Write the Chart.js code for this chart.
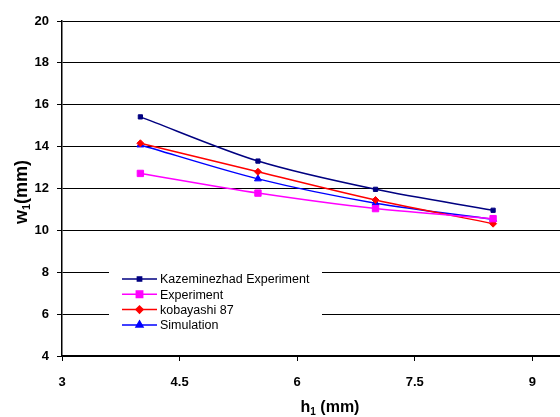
<!DOCTYPE html>
<html>
<head>
<meta charset="utf-8">
<script src="https://cdn.jsdelivr.net/npm/chart.js@4/dist/chart.umd.min.js"></script>
<style>
  html, body { margin: 0; padding: 0; background: #fff; overflow: hidden; }
  #wrap { width: 566px; height: 417px; position: relative; }
</style>
</head>
<body>
<div id="wrap"><canvas id="chart"></canvas></div>
<script>
let hValues = [4, 5.5, 7, 8.5],
    kazeminezhad = [15.42, 13.31, 11.96, 10.96],
    experiment = [12.72, 11.78, 11.04, 10.56],
    kobayashi = [14.16, 12.8, 11.45, 10.32],
    simulation = [14.08, 12.46, 11.3, 10.53],
    xTicks = [3, 4.5, 6, 7.5, 9],
    yTicks = [4, 6, 8, 10, 12, 14, 16, 18, 20];

const FONT = "Arial, 'Liberation Sans', sans-serif"

const toPoints = (ys) => ys.map((y, i) => ({ x: hValues[i], y: y }))

const series = [
  { label: 'Kazeminezhad Experiment', data: kazeminezhad, color: '#000080', style: 'rect', r: 3 },
  { label: 'Experiment', data: experiment, color: '#FF00FF', style: 'rect', r: 4.5 },
  { label: 'kobayashi 87', data: kobayashi, color: '#FF0000', style: 'rectRot', r: 3.5 },
  { label: 'Simulation', data: simulation, color: '#0000FF', style: 'triangle', r: 4 }
]

// legend drawn inside the plot, over the gridlines
const boxLegend = {
  id: 'boxLegend',
  beforeDatasetsDraw(chart) {
    const c = chart.ctx
    c.save()
    c.fillStyle = '#fff'
    c.fillRect(109, 264, 213, 70)
    c.font = '12.5px ' + FONT
    c.textBaseline = 'middle'
    chart.data.datasets.forEach((ds, i) => {
      const y = 279 + i * 15.3
      c.strokeStyle = ds.borderColor
      c.lineWidth = 1.5
      c.beginPath()
      c.moveTo(122, y)
      c.lineTo(157, y)
      c.stroke()
      c.fillStyle = ds.borderColor
      Chart.helpers.drawPoint(c, {
        pointStyle: ds.pointStyle, radius: ds.pointRadius, borderWidth: 1
      }, 139.5, y)
      c.fillStyle = '#000'
      c.fillText(ds.label, 160, y + 1)
    })
    c.restore()
  }
}

// axis titles with subscripts
const axisTitles = {
  id: 'axisTitles',
  afterDraw(chart) {
    const c = chart.ctx
    const drawSub = (parts, x, y, size) => {
      const big = 'bold ' + size + 'px ' + FONT,
            small = 'bold ' + Math.round(size * 0.62) + 'px ' + FONT
      let w = 0
      parts.forEach((p) => {
        c.font = p.sub ? small : big
        w += c.measureText(p.t).width
      })
      let cx = x - w / 2
      parts.forEach((p) => {
        c.font = p.sub ? small : big
        c.fillText(p.t, cx, p.sub ? y + size * 0.28 : y)
        cx += c.measureText(p.t).width
      })
    }
    c.save()
    c.fillStyle = '#000'
    c.textBaseline = 'middle'
    drawSub([{ t: 'h' }, { t: '1', sub: true }, { t: ' (mm)' }], 330, 408, 16)
    c.translate(22, 192)
    c.rotate(-Math.PI / 2)
    drawSub([{ t: 'w' }, { t: '1', sub: true }, { t: '(mm)' }], 0, 0, 18)
    c.restore()
  }
}

const ctx = document.getElementById('chart').getContext('2d')

new Chart(ctx, {
  type: 'line',
  data: {
    datasets: series.map((s) => ({
      label: s.label,
      data: toPoints(s.data),
      borderColor: s.color,
      backgroundColor: s.color,
      pointBackgroundColor: s.color,
      pointBorderColor: s.color,
      pointStyle: s.style,
      pointRadius: s.r,
      pointBorderWidth: 1,
      borderWidth: 1.5,
      tension: 0.3,
      fill: false
    }))
  },
  options: {
    responsive: true,
    maintainAspectRatio: false,
    animation: false,
    layout: { padding: { top: 21, right: 0, left: 0, bottom: 0 } },
    plugins: { legend: { display: false }, tooltip: { enabled: false } },
    scales: {
      x: {
        type: 'linear',
        min: 3,
        max: 9.36,
        afterBuildTicks: (axis) => { axis.ticks = xTicks.map((v) => ({ value: v })) },
        afterFit: (axis) => { axis.height = 61 },
        grid: { drawOnChartArea: false, tickLength: 5, tickColor: '#000' },
        border: { color: '#000', width: 1.5 },
        ticks: {
          color: '#000', font: { family: FONT, size: 13, weight: 'bold' },
          padding: 14, maxRotation: 0, autoSkip: false
        }
      },
      y: {
        min: 4,
        max: 20,
        afterBuildTicks: (axis) => { axis.ticks = yTicks.map((v) => ({ value: v })) },
        afterFit: (axis) => { axis.width = 62 },
        grid: { color: '#000', lineWidth: 1, tickLength: 5, tickColor: '#000' },
        border: { color: '#000', width: 1.5 },
        ticks: {
          color: '#000', font: { family: FONT, size: 13, weight: 'bold' },
          padding: 8
        }
      }
    }
  },
  plugins: [boxLegend, axisTitles]
})
</script>
</body>
</html>
